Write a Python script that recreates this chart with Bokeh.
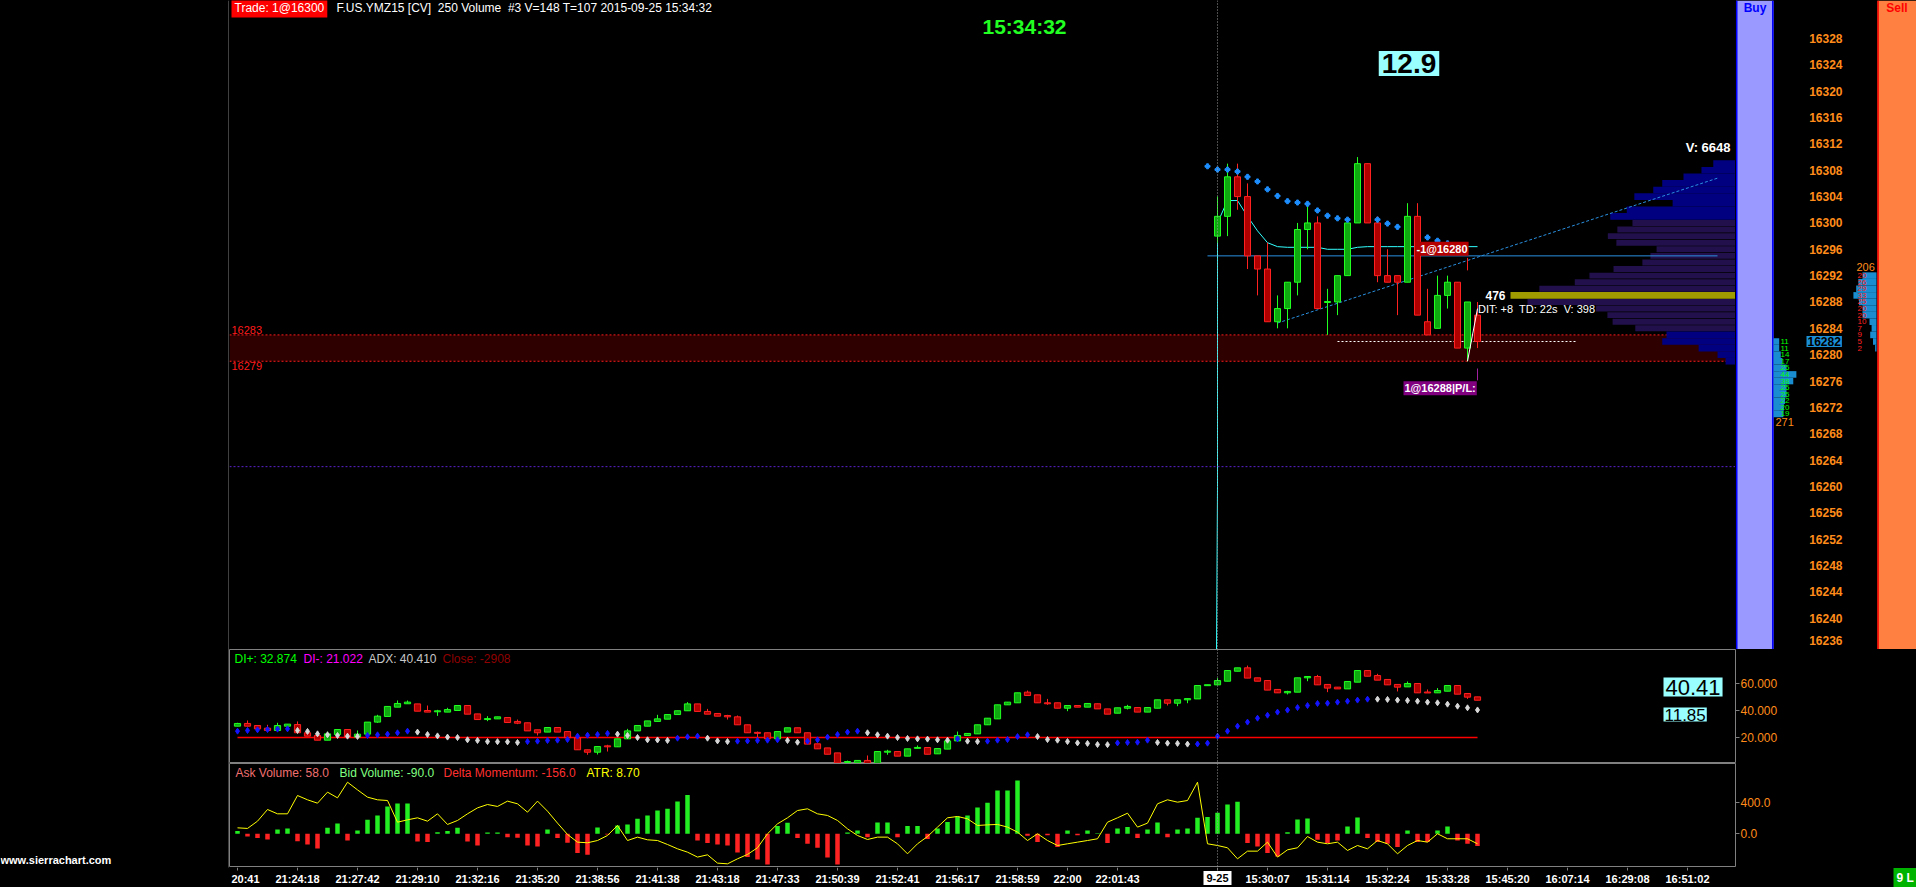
import math
from bokeh.plotting import figure
from bokeh.models import (Range1d, ColumnDataSource, Label, Span, FixedTicker,
                          NumeralTickFormatter)
from bokeh.layouts import row, column
from bokeh.embed import file_html
from bokeh.resources import INLINE
from bokeh.core.properties import value

NAN = float("nan")

# ============================ DATA ============================
# x axis: bar index (0 = first bar of the 2015-09-25 session)
tick_index = [-98, -92, -86, -80, -74, -68, -62, -56, -50, -44, -38, -32, -26,
              -20, -15, -10, 0, 5, 11, 17, 23, 29, 35, 41, 47]
tick_labels = ["20:41", "21:24:18", "21:27:42", "21:29:10", "21:32:16", "21:35:20",
               "21:38:56", "21:41:38", "21:43:18", "21:47:33", "21:50:39", "21:52:41",
               "21:56:17", "21:58:59", "22:00", "22:01:43", "9-25", "15:30:07",
               "15:31:14", "15:32:24", "15:33:28", "15:45:20", "16:07:14", "16:29:08",
               "16:51:02"]
session_start = 0

# main price panel: candles of the current session
bar_index = list(range(27))
bar_open = [16298, 16301, 16307, 16304, 16295, 16293, 16285, 16287, 16291, 16299, 16300, 16288, 16288, 16292,
            16300, 16309, 16300, 16292, 16292, 16291, 16301, 16285, 16284, 16289, 16291, 16281, 16286]
bar_high = [16304, 16309, 16309, 16306, 16295, 16297, 16289, 16291, 16300, 16303, 16301, 16290, 16292, 16300,
            16310, 16309, 16301, 16296, 16292, 16303, 16303, 16290, 16292, 16292, 16291, 16288, 16288]
bar_low = [16297, 16298, 16302, 16293, 16289, 16285, 16284, 16284, 16289, 16296, 16287, 16283, 16286, 16292,
           16300, 16300, 16291, 16291, 16286, 16291, 16286, 16283, 16284, 16287, 16281, 16279, 16281]
bar_close = [16301, 16307, 16304, 16295, 16293, 16285, 16287, 16291, 16299, 16300, 16287, 16288, 16292, 16300,
             16309, 16300, 16292, 16291, 16291, 16301, 16286, 16283, 16289, 16291, 16281, 16288, 16282]

# parabolic-style dots above price
psar_index = list(range(-1, 27))
psar_value = [16308.6, 16308.1, 16308.1, 16307.8, 16307.0, 16306.3, 16305.1, 16304.1, 16303.3, 16303.1,
              16302.9, 16301.9, 16301.1, 16300.7, 16300.5, NAN, NAN, 16300.5, 16299.9, 16299.4,
              NAN, NAN, 16297.8, 16297.3, 16296.9, NAN, NAN, NAN]

# cyan average line (previous-session value lies far below the visible range)
cyan_index = [-1, 0, 0] + list(range(1, 27))
cyan_value = [16010, 16260, 16300, 16303.4, 16303.4, 16301.0, 16298.8, 16297.0, 16296.4, 16296.3,
              16296.3, 16296.3, 16296.3, 16296.0, 16296.0, 16296.0, 16296.3] + [16296.4] * 12

# drawn lines / zones
hline_price, hline_from, hline_to = 16295, -1, 50
trend_index = [6, 50]
trend_price = [16284.8, 16306.8]
zone_low, zone_high = 16279, 16283
purple_level = 16263
white_level, white_from, white_to = 16282, 12, 36
trace_index = [25, 26]
trace_price = [16279, 16287]
mark_index = [25, 26]
mark_top = [16294.7, 16277.9]
mark_bottom = [16292.8, 16276.1]

# volume profile
profile_price = list(range(16309, 16278, -1))
profile_volume = [47, 72, 110, 155, 174, 214, 133, 230, 265, 218, 250, 270, 252, 167, 180, 197,
                  258, 309, 340, 415, 476, 440, 295, 271, 260, 212, 146, 155, 78, 38, 21]
va_low, va_high = 16284, 16300

# price scale and DOM ladder
price_ticks = list(range(16236, 16329, 4))
bid_price = list(range(16282, 16270, -1))
bid_size = [11, 11, 14, 17, 25, 44, 38, 25, 25, 22, 20, 19]
ask_price = list(range(16292, 16280, -1))
ask_size = [20, 26, 29, 33, 25, 20, 20, 10, 7, 9, 5, 2]

# panel 2: DMI candles + ADX
ind_index = list(range(-98, 27))
di_open = [28.4, 30.4, 28.9, 26.9, 25.2, 28.4, 29.6, 23.5, 21.5, 18.0,
           22.2, 25.9, 20.3, 22.5, 31.4, 35.6, 42.5, 45.0, 44.9, 40.0,
           39.3, 38.8, 40.0, 43.7, 37.5, 33.3, 33.8, 34.8, 31.9, 30.9,
           25.7, 24.0, 27.4, 24.4, 19.8, 10.9, 9.1, 13.6, 13.1, 19.0,
           24.9, 28.4, 31.9, 33.6, 37.0, 39.8, 44.9, 39.3, 37.8, 36.3,
           35.3, 29.4, 23.7, 23.5, 19.0, 24.0, 27.2, 23.5, 15.3, 12.3,
           8.6, 1.5, 1.2, 3.0, 0.5, 9.4, 9.6, 6.2, 12.0, 12.6,
           7.9, 11.4, 17.5, 21.5, 22.7, 29.4, 33.8, 44.2, 45.7, 53.6,
           51.6, 45.7, 45.7, 41.7, 43.7, 42.5, 45.0, 41.2, 38.0, 41.7,
           42.2, 38.8, 41.7, 47.9, 45.4, 47.9, 48.6, 58.5, 59.0, 61.7,
           69.1, 71.6, 64.2, 62.2, 55.6, 53.1, 53.6, 64.2, 65.2, 59.3,
           57.3, 56.0, 61.0, 69.6, 65.9, 63.0, 59.3, 57.5, 60.0, 53.6,
           53.1, 54.3, 58.5, 52.6, 50.1]
di_close = [30.4, 28.4, 26.4, 25.2, 28.9, 29.9, 23.5, 21.0, 18.0, 22.7,
            25.9, 20.3, 22.5, 31.4, 35.8, 43.0, 45.2, 46.2, 39.5, 38.8,
            39.5, 40.7, 43.7, 37.3, 33.3, 34.0, 35.3, 31.1, 30.6, 24.9,
            23.5, 27.4, 24.0, 19.8, 10.9, 9.1, 13.3, 13.3, 19.0, 24.9,
            28.9, 32.3, 33.8, 37.0, 39.8, 44.9, 39.3, 37.3, 35.8, 35.3,
            29.4, 23.5, 23.2, 19.0, 24.4, 27.2, 23.5, 15.1, 11.6, 7.6,
            1.2, 2.2, 3.0, 0.3, 9.6, 9.6, 6.2, 11.6, 12.6, 7.6,
            11.8, 17.5, 21.5, 23.0, 29.4, 34.3, 44.2, 46.2, 53.1, 51.1,
            45.7, 45.0, 41.7, 43.7, 42.5, 45.2, 41.2, 37.3, 42.0, 43.0,
            38.8, 42.2, 47.9, 45.4, 47.9, 48.8, 58.5, 59.0, 62.2, 69.6,
            71.6, 64.0, 61.7, 55.1, 53.1, 54.1, 64.2, 65.2, 59.0, 56.6,
            56.0, 61.5, 69.6, 65.4, 62.5, 59.0, 57.3, 60.0, 53.1, 53.1,
            54.8, 58.5, 52.1, 49.9, 47.6]
di_high = [30.9, 32.6, 28.9, 29.4, 30.9, 29.9, 31.9, 25.2, 21.5, 24.4,
           25.9, 25.9, 25.2, 31.4, 36.8, 43.0, 47.4, 47.4, 44.9, 43.7,
           40.5, 42.0, 43.7, 43.7, 37.5, 35.8, 35.3, 34.8, 33.3, 30.9,
           25.7, 27.4, 27.4, 24.4, 19.8, 10.9, 13.3, 14.6, 19.0, 26.4,
           28.9, 32.3, 36.8, 37.0, 39.8, 46.2, 44.9, 41.2, 37.8, 36.8,
           36.3, 29.4, 24.4, 23.5, 24.4, 27.2, 27.2, 23.5, 15.3, 12.3,
           8.6, 2.9, 3.0, 6.7, 9.6, 10.9, 9.6, 11.6, 14.1, 12.6,
           11.8, 17.5, 24.4, 23.0, 29.4, 34.3, 44.2, 46.2, 53.1, 54.8,
           51.6, 48.6, 45.7, 43.7, 43.7, 45.2, 45.0, 41.2, 42.0, 44.2,
           42.2, 42.2, 47.9, 47.9, 47.9, 48.8, 58.5, 59.0, 64.0, 69.6,
           71.6, 73.3, 64.2, 62.2, 55.6, 54.6, 64.2, 65.2, 66.4, 59.3,
           57.3, 61.5, 69.6, 69.6, 67.2, 63.0, 59.3, 61.5, 60.0, 55.6,
           56.6, 58.5, 58.5, 52.6, 50.1]
di_low = [28.4, 28.4, 26.4, 25.2, 25.2, 28.4, 23.5, 21.0, 18.0, 18.0,
          22.2, 20.3, 20.3, 22.5, 30.9, 35.6, 42.5, 45.0, 39.5, 38.8,
          36.0, 38.8, 40.0, 37.3, 33.3, 32.1, 33.8, 31.1, 29.9, 24.9,
          21.5, 24.0, 24.0, 19.8, 10.9, 7.2, 7.4, 9.6, 13.1, 19.0,
          24.9, 28.4, 31.9, 33.6, 37.0, 39.8, 39.3, 37.3, 35.8, 33.3,
          29.4, 23.5, 18.5, 19.0, 19.0, 24.0, 23.5, 15.1, 11.6, 7.6,
          1.2, 1.5, 1.2, 0.3, 0.5, 7.2, 6.2, 6.2, 12.0, 7.6,
          7.9, 11.4, 17.5, 21.5, 22.7, 29.4, 33.8, 44.2, 45.7, 51.1,
          45.7, 44.2, 41.7, 39.5, 42.5, 42.5, 41.2, 37.3, 38.0, 40.8,
          38.8, 38.8, 41.7, 43.7, 43.2, 45.4, 48.6, 58.5, 59.0, 61.7,
          69.1, 64.0, 61.7, 55.1, 53.1, 51.9, 53.6, 61.7, 59.0, 53.6,
          56.0, 56.0, 61.0, 65.4, 62.5, 59.0, 54.1, 57.5, 53.1, 53.1,
          53.1, 54.3, 52.1, 48.6, 47.6]
adx_value = [24.7, 25.2, 25.7, 25.9, 26.2, 26.4, 25.2, 24.5, 22.7, 22.0,
             21.5, 21.0, 20.8, 21.5, 22.0, 22.5, 23.5, 24.7, 24.0, 22.2,
             21.2, 20.3, 20.0, 18.3, 17.8, 17.0, 16.9, 16.8, 16.3, 17.0,
             17.3, 17.8, 18.0, 18.5, 21.0, 21.7, 22.2, 23.0, 22.5, 21.5,
             20.0, 18.3, 18.2, 17.8, 19.5, 20.5, 21.0, 19.5, 17.5, 17.0,
             17.3, 17.5, 17.8, 18.0, 18.3, 17.8, 16.5, 17.3, 18.3, 20.3,
             22.2, 24.0, 24.7, 23.5, 22.0, 21.0, 20.0, 19.3, 19.0, 18.8,
             18.3, 18.0, 19.0, 17.3, 17.0, 17.3, 18.0, 18.5, 20.7, 22.0,
             20.7, 18.5, 18.0, 17.0, 16.0, 15.6, 14.8, 14.7, 16.0, 16.3,
             16.5, 18.0, 16.3, 15.8, 15.6, 15.1, 15.2, 15.8, 21.0, 24.7,
             28.4, 31.4, 34.3, 36.5, 38.8, 40.3, 42.2, 43.7, 45.2, 45.4,
             46.2, 46.9, 47.7, 48.4, 48.4, 48.2, 47.7, 47.4, 46.9, 46.2,
             45.7, 44.7, 43.2, 42.0, 40.41]
adx_level = 20
di_plus, di_minus, adx_last, close_last = 32.874, 21.022, 40.410, -2908

# panel 3: delta bars + yellow line
delta_value = [34, -34, -55, -72, 55, 68, -94, -136, -187, 77, 132, -85, 43, 179, 234, 349, 387, 387,
               -98, -106, 20, 34, 77, -98, -149, 17, 17, -43, -51, -149, -162, 55, -55, -115, -247,
               -268, 81, -10, 106, 119, 192, 234, 298, 319, 413, 494, -85, -119, -136, -149, -238,
               -298, -328, -392, 98, 140, -55, -128, -179, -302, -392, 17, 43, -43, 145, 145, -43,
               98, 98, -68, 68, 149, 221, 234, 336, 396, 553, 553, 681,
               -25, -106, -20, -170, 43, -20, 43, 8, -119, 68, 85, -55, 55, 145, -43, 55, 68, 204, 213,
               268, 374, 408, -119, -162, -247, -289, 21, 183, 196, -77, -119, -85, 94, 208, -55,
               -106, -128, -170, 43, -106, -106, 43, 94, -85, -128, -156]
yellow_value = [76, 68, 161, 310, 255, 255, 489, 434, 391, 532, 459, 659, 561, 468, 434, 425, 148, 178,
                204, 161, 255, 119, 170, 255, 331, 374, 349, 417, 383, 276, 417, 289, 136, -9, -107,
                -115, -86, -22, 106, -86, -43, -77, -86, -137, -192, -235, -298, -269, -375, -384,
                -320, -264, -179, 0, 127, 204, 297, 319, 255, 234, 170, 63, -22, -73, -43, -43, -128,
                -256, -128, -35, 85, 204, 221, 191, 106, 114, 119, 85, 21,
                -86, 0, -86, -150, -128, -107, -86, -64, 148, 204, 263, 85, 136, 383, 434, 404, 425,
                659, -128, -150, -179, -320, -222, -222, -107, -298, -205, -179, -35, -107, -128, -107,
                -213, -150, -192, -86, -128, -256, -150, -86, -107, 0, -64, -64, -64, -128]
ask_volume, bid_volume, delta_momentum, atr_value = 58.0, -90.0, -156.0, 8.70

# texts
NB = "\u00a0"
trade_text = "Trade: 1@16300"
header_text = "F.US.YMZ15 [CV]" + NB + " 250 Volume" + NB + " #3 V=148 T=107 2015-09-25 15:34:32"
clock_text = "15:34:32"
stat_text = "12.9"
sell_fill_text = "-1@16280"
position_text = "1@16288|P/L:"
dit_text = "DIT: +8" + NB + " TD: 22s" + NB + " V: 398"
link_text = "www.sierrachart.com"
status_text = "9 L"

# ============================ STYLE ============================
FONT = "Liberation Sans"
GRAY = "#808080"
ORANGE = "#ff8c1a"
UP_FILL, UP_LINE = "#10a810", "#20ff20"
DN_FILL, DN_LINE = "#b00000", "#ff2020"
X_START, X_END = -98.8, 51.8
X_END_WIDE = 69.9
P_MIN, P_MAX = 16235.24, 16333.77


def base_fig(**kw):
    p = figure(output_backend="svg", toolbar_location=None,
               background_fill_color="black", border_fill_color="black",
               min_border=0, **kw)
    p.grid.visible = False
    return p


def add_candles(p, idx, o, h, l, c, width, min_body):
    top, bot, fill, line = [], [], [], []
    for oo, cc in zip(o, c):
        t, b = max(oo, cc), min(oo, cc)
        if t - b < min_body:
            m = (t + b) / 2.0
            t, b = m + min_body / 2.0, m - min_body / 2.0
        top.append(t)
        bot.append(b)
        up = cc >= oo
        fill.append(UP_FILL if up else DN_FILL)
        line.append(UP_LINE if up else DN_LINE)
    src = ColumnDataSource(dict(x=idx, top=top, bot=bot, high=h, low=l, fill=fill, line=line))
    p.segment(x0="x", y0="low", x1="x", y1="high", line_color="line", line_width=1, source=src)
    p.vbar(x="x", width=width, top="top", bottom="bot", fill_color="fill",
           line_color="line", line_width=1, source=src)


def lab(p, text, x, y, color="white", size="12px", bold=False, align="left",
        baseline="middle", xu="screen", yu="screen", bg=None, pad=0, xo=0, yo=0):
    kw = dict(x=x, y=y, x_units=xu, y_units=yu, text=text, text_color=color,
              text_font=FONT, text_font_size=size,
              text_font_style="bold" if bold else "normal",
              text_align=align, text_baseline=baseline, x_offset=xo, y_offset=yo)
    if bg is not None:
        kw.update(background_fill_color=bg, background_fill_alpha=1.0, padding=pad)
    p.add_layout(Label(**kw))


def right_axis(a, ticks, fmt):
    a.ticker = FixedTicker(ticks=ticks)
    a.formatter = NumeralTickFormatter(format=fmt)
    a.major_label_text_color = ORANGE
    a.major_label_text_font = FONT
    a.major_label_text_font_size = "12px"
    a.axis_line_color = None
    a.major_tick_line_color = GRAY
    a.major_tick_out = 4
    a.major_tick_in = 0
    a.minor_tick_line_color = None
    a.major_label_standoff = 1


x_range = Range1d(X_START, X_END)
y_price = Range1d(P_MIN, P_MAX)

# ============================ MAIN PANEL ============================
main = base_fig(frame_width=1506, frame_height=649, x_range=x_range, y_range=y_price,
                x_axis_location=None, y_axis_location=None, outline_line_color=None)

main.quad(left=X_START, right=X_END, bottom=zone_low, top=zone_high,
          fill_color="#2e0000", line_color=None)
main.segment(x0=[X_START, X_START], x1=[X_END, X_END], y0=[zone_low, zone_high],
             y1=[zone_low, zone_high], line_color="#ff1a1a", line_dash="2 2", line_width=1)
main.add_layout(Span(location=purple_level, dimension="width", line_color="#5a22cc",
                     line_dash="2 2", line_width=1))
main.add_layout(Span(location=session_start, dimension="height", line_color="#9a9a9a",
                     line_dash="1 2", line_width=1))

# volume profile
k = 22.5 / max(profile_volume)
poc_i = profile_volume.index(max(profile_volume))
poc_price = profile_price[poc_i]
prof_left = [X_END - v * k for v in profile_volume]
prof_col, prof_top, prof_bot = [], [], []
for pr in profile_price:
    if pr == poc_price:
        prof_col.append("#a09c00"); prof_top.append(pr + 0.5); prof_bot.append(pr - 0.5)
    elif va_low <= pr <= va_high:
        prof_col.append("#22104c"); prof_top.append(pr + 0.45); prof_bot.append(pr - 0.45)
    else:
        prof_col.append("#000080"); prof_top.append(pr + 0.5); prof_bot.append(pr - 0.5)
main.quad(left=prof_left, right=[X_END] * len(profile_price), bottom=prof_bot, top=prof_top,
          fill_color=prof_col, line_color=None)

main.segment(x0=hline_from, x1=hline_to, y0=hline_price, y1=hline_price,
             line_color="#2a90e0", line_width=1)
main.line(trend_index, trend_price, line_color="#2a90e0", line_width=1, line_dash="3 2")
main.segment(x0=white_from, x1=white_to, y0=white_level, y1=white_level,
             line_color="white", line_dash="2 2", line_width=1)
main.line(cyan_index, cyan_value, line_color="#33ffff", line_width=1)

add_candles(main, bar_index, bar_open, bar_high, bar_low, bar_close, 0.6, 0.15)
main.scatter(psar_index, psar_value, marker="plus", size=5, fill_color="#1e8fff",
             line_color="#1e8fff")
main.line(trace_index, trace_price, line_color="white", line_width=1)
main.segment(x0=mark_index, x1=mark_index, y0=mark_bottom, y1=mark_top,
             line_color=["#ff2020", "#a020a0"], line_width=1)

lab(main, trade_text, 2, 642, bg="#ff0000", pad=3)
lab(main, header_text, 107, 642)
lab(main, clock_text, 795, 623.5, color="#22ff22", size="21px", bold=True, align="center")
lab(main, stat_text, 1179.5, 586, color="black", size="28px", bold=True, align="center",
    bg="#99ffff", pad=3)
lab(main, str(zone_high), X_START, zone_high, color="#ff1a1a", size="11px", xu="data", yu="data",
    baseline="bottom", xo=2, yo=1)
lab(main, str(zone_low), X_START, zone_low, color="#ff1a1a", size="11px", xu="data", yu="data",
    baseline="top", xo=2, yo=-1)
lab(main, str(max(profile_volume)), prof_left[poc_i], poc_price, bold=True, align="right",
    xu="data", yu="data", xo=-5)
lab(main, dit_text, bar_index[-1] + 0.05, 16286.9, size="11px", xu="data", yu="data")
lab(main, "V: %d" % sum(profile_volume), X_END, profile_price[0] + 0.5, bold=True, size="13px",
    align="right", baseline="bottom", xu="data", yu="data", xo=-5, yo=5)
lab(main, sell_fill_text, 19.8, 16296.1, size="11px", bold=True, xu="data", yu="data",
    bg="#b40000", pad=1)
lab(main, position_text, 18.6, 16274.9, size="11px", bold=True, xu="data", yu="data",
    bg="#800080", pad=1)

# ============================ RIGHT PRICE SCALE ============================
right = base_fig(frame_width=181, frame_height=649, x_range=Range1d(0, 181), y_range=y_price,
                 x_axis_location=None, y_axis_location=None, outline_line_color=None)
right.quad(left=0.5, right=38, bottom=P_MIN, top=P_MAX, fill_color="#9999ff", line_color=None)
right.segment(x0=[1.2, 37.3], x1=[1.2, 37.3], y0=P_MIN, y1=P_MAX, line_color="#0000ff",
              line_width=1.6)
right.quad(left=142, right=181, bottom=P_MIN, top=P_MAX, fill_color="#ff8040", line_color=None)
right.segment(x0=142.6, x1=142.6, y0=P_MIN, y1=P_MAX, line_color="#ff0000", line_width=1.5)
lab(right, "Buy", 19.5, 641.5, color="#0000ff", bold=True, align="center")
lab(right, "Sell", 161.5, 641.5, color="#ff0000", bold=True, align="center")

pt_off = [-4 if t == price_ticks[0] else 0 for t in price_ticks]
right.text(x=[107] * len(price_ticks), y=price_ticks, text=[str(t) for t in price_ticks],
           y_offset=pt_off,
           text_font=value(FONT), text_font_size="12px", text_font_style="bold",
           text_color=ORANGE, text_align="right", text_baseline="middle")

right.quad(left=[38] * len(bid_price), right=[38 + s * 0.52 for s in bid_size],
           bottom=[b - 0.5 for b in bid_price], top=[b + 0.5 for b in bid_price],
           fill_color="#1a8cd0", line_color=None)
right.text(x=[45] * len(bid_price), y=bid_price, text=[str(s) for s in bid_size],
           text_font=value(FONT), text_font_size="8px", text_color="#00ff00",
           text_align="left", text_baseline="middle")
right.quad(left=[141 - s * 0.7 for s in ask_size], right=[141] * len(ask_price),
           bottom=[a - 0.5 for a in ask_price], top=[a + 0.5 for a in ask_price],
           fill_color="#1a8cd0", line_color=None)
right.text(x=[122] * len(ask_price), y=ask_price, text=[str(s) for s in ask_size],
           text_font=value(FONT), text_font_size="8px", text_color="#ff2020",
           text_align="left", text_baseline="middle")
lab(right, str(sum(bid_size)), 40, min(bid_price) - 0.5, color=ORANGE, size="11px",
    baseline="top", xu="data", yu="data", yo=-1)
lab(right, str(sum(ask_size)), 121, max(ask_price) + 0.5, color=ORANGE, size="11px",
    baseline="bottom", xu="data", yu="data", yo=1)
lab(right, str(bar_close[-1]), 71, bar_close[-1], color="black", bold=True, xu="data", yu="data",
    bg="#1a8fd8", pad=1)

# ============================ PANEL 2: DMI / ADX ============================
adx = base_fig(frame_width=1506, frame_height=114, x_range=x_range, y_range=Range1d(0.74, 85.19),
               x_axis_location=None, y_axis_location="right", min_border_right=181,
               outline_line_color=GRAY)
adx.add_layout(Span(location=session_start, dimension="height", line_color="#9a9a9a",
                    line_dash="1 2", line_width=1))
adx.segment(x0=ind_index[0], x1=ind_index[-1], y0=adx_level, y1=adx_level,
            line_color="#ff0000", line_width=1.5)
add_candles(adx, ind_index, di_open, di_high, di_low, di_close, 0.62, 0.7)
adx_col = ["#1414ff" if i == 0 or adx_value[i] > adx_value[i - 1] else "#d8d8d8"
           for i in range(len(adx_value))]
adx.scatter(ind_index, adx_value, marker="diamond", size=6, fill_color=adx_col, line_color=adx_col)
right_axis(adx.yaxis[0], [20, 40, 60], "0.000")

lab(adx, "DI+: %.3f" % di_plus, 5, 105, color="#00ff00")
lab(adx, "DI-: %.3f" % di_minus, 74, 105, color="#ff00ff")
lab(adx, "ADX: %.3f" % adx_last, 139, 105, color="#c8c8c8")
lab(adx, "Close: %d" % close_last, 213, 105, color="#900000")
lab(adx, "%.2f" % adx_last, 1434, 76.5, color="black", size="22px", bg="#99ffff", pad=2)
lab(adx, "%.2f" % (di_plus - di_minus), 1434, 49, color="black", size="17px", bg="#99ffff", pad=1)

# ============================ PANEL 3: DELTA ============================
delta = base_fig(frame_width=1506, frame_height=104, x_range=x_range, y_range=Range1d(-431, 898),
                 x_axis_location=None, y_axis_location="right", min_border_right=181,
                 outline_line_color=GRAY)
delta.add_layout(Span(location=session_start, dimension="height", line_color="#9a9a9a",
                      line_dash="1 2", line_width=1))
delta.vbar(x=ind_index, width=0.45, top=delta_value, bottom=0,
           fill_color=["#22ee22" if v >= 0 else "#ff2222" for v in delta_value], line_color=None)
delta.line(ind_index, yellow_value, line_color="#ffff00", line_width=1)
right_axis(delta.yaxis[0], [0, 400], "0.0")

lab(delta, "Ask Volume: %.1f" % ask_volume, 6, 95, color="#f07070")
lab(delta, "Bid Volume: %.1f" % bid_volume, 110, 95, color="#80ff80")
lab(delta, "Delta Momentum: %.1f" % delta_momentum, 214, 95, color="#ff3030")
lab(delta, "ATR: %.2f" % atr_value, 357, 95, color="#ffff00")

# ============================ TIME SCALE STRIP ============================
strip = base_fig(frame_width=1687, frame_height=20, x_range=Range1d(X_START, X_END_WIDE),
                 y_range=Range1d(0, 20), x_axis_location=None, y_axis_location=None,
                 outline_line_color=None)
strip.segment(x0=tick_index, x1=tick_index, y0=[20] * len(tick_index), y1=[17] * len(tick_index),
              line_color=GRAY, line_width=1)
t_idx = [t for t, l in zip(tick_index, tick_labels) if t != session_start]
t_lbl = [l for t, l in zip(tick_index, tick_labels) if t != session_start]
t_off = [8 if t == tick_index[0] else 0 for t in t_idx]
strip.text(x=t_idx, y=[9] * len(t_idx), text=t_lbl, x_offset=t_off,
           text_font=value(FONT), text_font_size="11px", text_font_style="bold",
           text_color="white", text_align="center", text_baseline="middle")
session_label = tick_labels[tick_index.index(session_start)]
lab(strip, session_label, session_start, 9.5, color="black", size="11px", bold=True,
    align="center", xu="data", bg="white", pad=3)
lab(strip, status_text, 1664, 9.5, color="white", bold=True, bg="#00b300", pad=3)

# ============================ LEFT STRIP ============================
left = base_fig(frame_width=229, frame_height=887, x_range=Range1d(0, 229), y_range=Range1d(0, 887),
                x_axis_location=None, y_axis_location=None, outline_line_color=None)
left.segment(x0=228.5, x1=228.5, y0=20, y1=887, line_color=GRAY, line_width=1)
lab(left, link_text, 0, 28, bold=True, size="11px")

layout = row(left, column(row(main, right), adx, delta, strip))
try:
    from bokeh.models import GlobalInlineStyleSheet
    layout.stylesheets = [GlobalInlineStyleSheet(css="html, body { background-color: #000000; }")]
except Exception:
    pass

open("out.html", "w").write(file_html(layout, INLINE))
